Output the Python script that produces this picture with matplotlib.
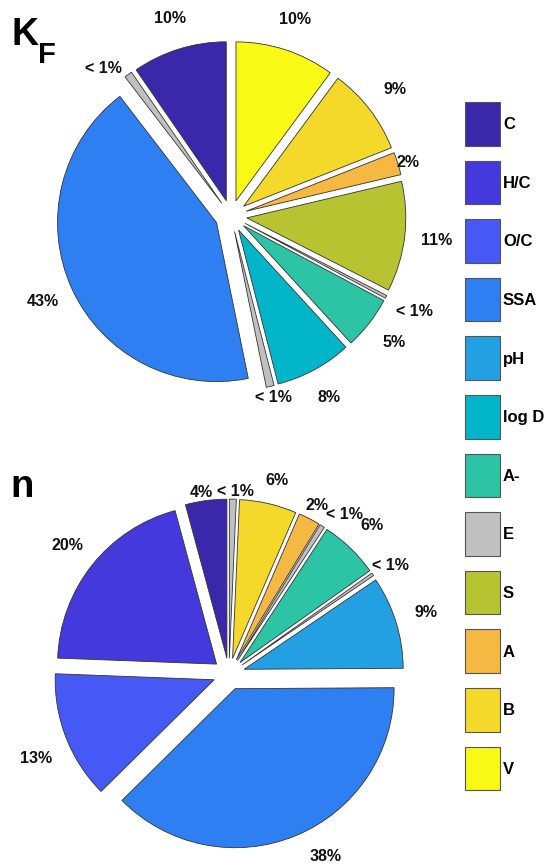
import numpy as np
import matplotlib
matplotlib.use("Agg")
import matplotlib.pyplot as plt
from matplotlib.patches import Rectangle

# Descriptor categories and their colours (parula-like palette)
categories = ["C", "H/C", "O/C", "SSA", "pH", "log D", "A-", "E", "S", "A", "B", "V"]
colors = ["#3B27A9", "#4339DD", "#4659F5", "#2E7FF1", "#23A0E1", "#03B5C9",
          "#2DC4A6", "#C0C0C0", "#B8C332", "#F5B842", "#F4D82A", "#F8F915"]
small_color = "#C0C0C0"

# Relative importance (%) of each descriptor
kf_values = [9.6, 0.8, 0.0, 42.8, 0.8, 7.8, 5.4, 0.3, 11.2, 2.3, 8.9, 10.1]
n_values = [4.2, 20.2, 13.0, 37.7, 9.4, 0.3, 6.0, 0.5, 0.0, 2.2, 5.8, 0.7]

FONT = "Liberation Sans"
W, H = 547, 866
R_PX = 159.0  # pie radius in pixels

# small manual label shifts (pixels, x right / y down) to keep labels clear
kf_label_shift = {"H/C": (-6, 20), "pH": (-4, -20), "A": (-20, 9)}
n_label_shift = {"C": (0, 23), "V": (2, 24), "B": (2, 8), "A": (-7, 15),
                 "E": (5, 15), "log D": (-8, 9), "O/C": (0, 10), "SSA": (17, -8)}

fig = plt.figure(figsize=(W / 100, H / 100), dpi=100)
fig.patch.set_facecolor("white")


def fmt(v):
    return "< 1%" if v < 1 else f"{round(v):d}%"


def draw_pie(values, center_px, top_px, bottom_px, shifts):
    cx, cy = center_px
    ax = fig.add_axes([0, 1 - bottom_px / H, 1, (bottom_px - top_px) / H])
    keep = [i for i, v in enumerate(values) if v > 0]
    vals = [values[i] for i in keep]
    cols = [small_color if values[i] < 1 else colors[i] for i in keep]
    wedges, _ = ax.pie(vals, colors=cols, startangle=90, counterclock=True,
                       explode=[0.1] * len(vals), radius=1.0,
                       wedgeprops=dict(edgecolor="#333333", linewidth=0.6))
    total = sum(vals)
    for w, i in zip(wedges, keep):
        th = np.deg2rad(0.5 * (w.theta1 + w.theta2))
        x0, y0 = w.center
        tx = x0 + 1.2 * np.cos(th)
        ty = y0 + 1.2 * np.sin(th)
        dx, dy = shifts.get(categories[i], (0, 0))
        tx += dx / R_PX
        ty -= dy / R_PX
        ax.text(tx, ty, fmt(100 * values[i] / total), ha="center", va="center",
                fontsize=11.5, fontweight="bold", family=FONT, color="#111111")
    ax.set_aspect("auto")
    ax.set_xlim(-cx / R_PX, (W - cx) / R_PX)
    ax.set_ylim(-(bottom_px - cy) / R_PX, (cy - top_px) / R_PX)
    ax.axis("off")
    return ax


draw_pie(kf_values, (231, 216), 0, 433, kf_label_shift)
draw_pie(n_values, (229, 674), 433, 866, n_label_shift)

# overlay axes in pixel units for headings and the legend
ov = fig.add_axes([0, 0, 1, 1])
ov.set_xlim(0, W)
ov.set_ylim(H, 0)
ov.axis("off")

ov.text(11, 45, "K", fontsize=27, fontweight="bold", family=FONT, va="baseline")
ov.text(38, 63, "F", fontsize=21, fontweight="bold", family=FONT, va="baseline")
ov.text(10, 497, "n", fontsize=27.5, fontweight="bold", family=FONT, va="baseline")

box_x, box_y0, box_w, box_h, pitch = 465, 102, 35, 43.5, 58.6
for i, (cat, col) in enumerate(zip(categories, colors)):
    y = box_y0 + i * pitch
    ov.add_patch(Rectangle((box_x, y), box_w, box_h, facecolor=col,
                           edgecolor="#555555", linewidth=0.8))
    ov.text(box_x + box_w + 3, y + box_h / 2 + 1, cat, fontsize=12,
            fontweight="bold", family=FONT, va="center", ha="left")

fig.savefig("out.png", dpi=100, facecolor="white")
